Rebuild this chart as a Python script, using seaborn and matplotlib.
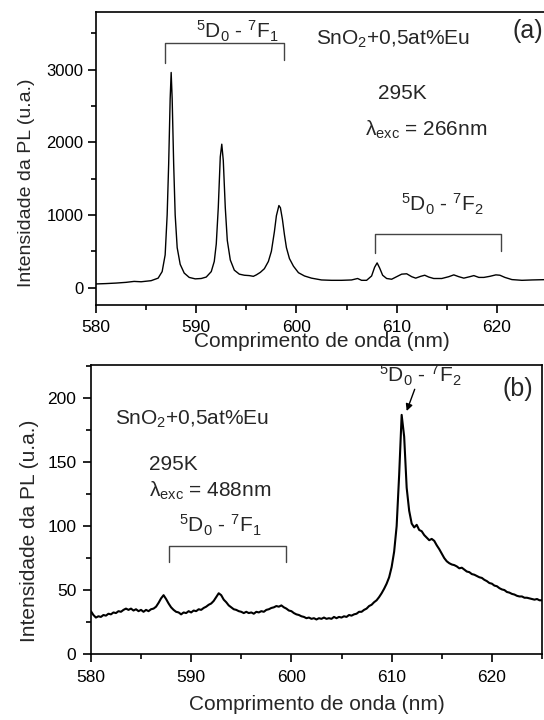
import numpy as np
import pandas as pd
import matplotlib
matplotlib.use("Agg")
import matplotlib.pyplot as plt
from matplotlib.ticker import MultipleLocator
import seaborn as sns

# ---------------- data ----------------
# (a) excitation 266 nm
wl_a = [580.0, 581.0, 582.0, 583.0, 583.8, 584.5, 585.5, 586.2, 586.6, 586.9,
        587.1, 587.25, 587.4, 587.5, 587.6, 587.75, 587.9, 588.1, 588.4, 588.8,
        589.3, 589.9, 590.5, 591.0, 591.5, 591.8, 592.0, 592.2, 592.4, 592.55,
        592.7, 592.9, 593.1, 593.4, 593.8, 594.3, 594.8, 595.3, 595.7, 596.0,
        596.4, 596.8, 597.2, 597.5, 597.8, 598.0, 598.25, 598.4, 598.6, 598.8,
        599.0, 599.3, 599.7, 600.2, 600.8, 601.5, 602.5, 603.5, 604.5, 605.5,
        606.1, 606.5, 607.0, 607.5, 607.8, 608.05, 608.3, 608.6, 609.0, 609.5,
        610.0, 610.5, 611.0, 611.5, 611.9, 612.4, 612.8, 613.2, 613.7, 614.5,
        615.2, 615.7, 616.2, 616.7, 617.3, 617.7, 618.2, 618.7, 619.3, 619.9,
        620.3, 620.8, 621.5, 622.5, 623.5, 625.0]
int_a = [50, 55, 62, 72, 85, 80, 95, 130, 220, 450,
         1000, 1700, 2600, 2963, 2600, 1700, 1000, 550, 320, 200,
         140, 120, 125, 145, 220, 360, 600, 1100, 1800, 1975,
         1750, 1100, 650, 380, 240, 185, 170, 165, 155, 175,
         210, 260, 360, 500, 770, 990, 1130, 1100, 940, 730,
         550, 400, 295, 205, 160, 130, 105, 100, 100, 105,
         125, 100, 100, 160, 280, 340, 270, 170, 125, 115,
         150, 185, 190, 150, 130, 155, 170, 145, 125, 125,
         150, 175, 150, 130, 150, 165, 140, 140, 155, 175,
         170, 140, 110, 100, 105, 110]

# (b) excitation 488 nm, sampled every 0.25 nm from 580 to 625 nm
int_b = [
    33.5, 30.5, 28.5, 29.5,   # 580
    29.0, 30.5, 30.0, 31.5,   # 581
    31.0, 32.5, 32.0, 33.5,   # 582
    33.0, 34.5, 35.5, 34.5,   # 583
    35.5, 34.0, 35.0, 33.5,   # 584
    34.5, 33.0, 34.5, 33.5,   # 585
    35.0, 35.5, 37.0, 40.0,   # 586
    43.5, 46.0, 43.0, 39.5,   # 587
    36.5, 34.5, 33.0, 32.5,   # 588
    31.0, 32.5, 32.0, 33.5,   # 589
    32.5, 34.0, 33.5, 35.0,   # 590
    34.5, 36.0, 37.0, 38.5,   # 591
    39.5, 41.5, 44.5, 47.5,   # 592
    46.0, 42.5, 40.5, 38.0,   # 593
    36.5, 35.0, 34.5, 33.5,   # 594
    33.0, 32.0, 33.0, 32.0,   # 595
    32.5, 31.5, 33.0, 32.5,   # 596
    33.5, 33.0, 34.5, 35.0,   # 597
    36.0, 36.5, 37.5, 37.0,   # 598
    38.0, 36.5, 35.5, 34.0,   # 599
    33.5, 32.0, 31.0, 30.5,   # 600
    29.5, 29.0, 28.0, 28.5,   # 601
    27.5, 28.0, 27.0, 28.0,   # 602
    27.5, 28.5, 27.5, 28.0,   # 603
    27.5, 29.0, 28.0, 29.0,   # 604
    28.5, 29.5, 29.0, 30.5,   # 605
    30.0, 31.0, 31.5, 33.0,   # 606
    33.0, 34.5, 35.5, 37.5,   # 607
    38.5, 40.5, 42.0, 44.5,   # 608
    47.5, 51.0, 55.0, 60.0,   # 609
    68.0, 80.0, 100.0, 140.0,  # 610
    187.0, 170.0, 130.0, 112.0,  # 611
    102.0, 99.0, 101.0, 97.0,  # 612
    96.0, 93.0, 91.0, 89.0,   # 613
    90.0, 88.5, 85.0, 82.0,   # 614
    78.5, 75.0, 72.5, 71.0,   # 615
    70.0, 69.5, 68.5, 67.0,   # 616
    67.5, 66.0, 64.5, 64.0,   # 617
    62.5, 62.0, 61.0, 60.0,   # 618
    59.5, 58.0, 57.0, 55.5,   # 619
    55.0, 53.5, 53.0, 51.5,   # 620
    50.5, 50.0, 48.5, 48.0,   # 621
    47.0, 46.5, 45.5, 45.0,   # 622
    45.0, 44.0, 44.0, 43.5,   # 623
    43.0, 42.5, 43.0, 42.0,   # 624
    42.0,                     # 625
]
wl_b = np.linspace(580.0, 625.0, len(int_b))

xticks = [580, 590, 600, 610, 620]
yticks_a = [0, 1000, 2000, 3000]
yticks_b = [0, 50, 100, 150, 200]

# ---------------- style ----------------
sns.set_theme(style="ticks")
plt.rcParams["font.family"] = ["Liberation Sans", "DejaVu Sans"]
plt.rcParams["mathtext.fontset"] = "custom"
plt.rcParams["mathtext.rm"] = "Liberation Sans"
plt.rcParams["mathtext.it"] = "Liberation Sans:italic"
plt.rcParams["mathtext.bf"] = "Liberation Sans:bold"
plt.rcParams["axes.linewidth"] = 1.2

fig = plt.figure(figsize=(5.44, 7.2), dpi=100)
ax_a = fig.add_axes([96 / 544, 1 - 305 / 720, (547 - 96) / 544, (305 - 11.7) / 720])
ax_b = fig.add_axes([90.9 / 544, 1 - 654 / 720, (542 - 90.9) / 544, (654 - 365) / 720])

df_a = pd.DataFrame({"wl": wl_a, "I": int_a})
df_b = pd.DataFrame({"wl": wl_b, "I": int_b})
sns.lineplot(data=df_a, x="wl", y="I", ax=ax_a, color="black", lw=1.0,
             estimator=None, sort=False)
sns.lineplot(data=df_b, x="wl", y="I", ax=ax_b, color="black", lw=1.5,
             estimator=None, sort=False)

for ax in (ax_a, ax_b):
    ax.set_xlim(580, 625)
    ax.set_xticks(xticks)
    ax.xaxis.set_minor_locator(MultipleLocator(5))
    ax.tick_params(which="major", direction="out", length=6, width=1.2,
                   labelsize=12.5, color="black", labelcolor="black")
    ax.tick_params(which="minor", direction="out", length=3.5, width=1.2,
                   color="black")
    ax.tick_params(axis="x", which="both", top=False)
    ax.tick_params(axis="y", which="both", right=False)
    for s in ax.spines.values():
        s.set_color("black")
        s.set_linewidth(1.2)

ax_a.set_ylim(-240, 3800)
ax_a.set_yticks(yticks_a)
ax_a.yaxis.set_minor_locator(MultipleLocator(500))
ax_a.tick_params(axis="y", labelsize=12, pad=3)
ax_a.tick_params(axis="x", pad=4.5)
for lab in ax_a.get_yticklabels():
    lab.set_family(["Liberation Sans Narrow", "Liberation Sans"])
ax_a.spines["right"].set_visible(False)

ax_b.set_ylim(0, 226)
ax_b.set_yticks(yticks_b)
ax_b.yaxis.set_minor_locator(MultipleLocator(25))
ax_b.tick_params(axis="y", labelsize=12.5, pad=4.5)
ax_b.tick_params(axis="x", pad=5.5)

ax_a.set_xlabel("Comprimento de onda (nm)", fontsize=15, va="center")
ax_a.xaxis.set_label_coords(0.5, -0.125)
ax_a.set_ylabel("Intensidade da PL (u.a.)", fontsize=14, va="center")
ax_a.yaxis.set_label_coords(-0.155, 0.418)

ax_b.set_xlabel("Comprimento de onda (nm)", fontsize=15, va="center")
ax_b.xaxis.set_label_coords(0.5, -0.176)
ax_b.set_ylabel("Intensidade da PL (u.a.)", fontsize=15, va="center")
ax_b.yaxis.set_label_coords(-0.136, 0.427)

F1 = r"$\mathregular{^5D_0}$ - $\mathregular{^7F_1}$"
F2 = r"$\mathregular{^5D_0}$ - $\mathregular{^7F_2}$"
tsz = 15
bcol = "#444444"

# ---- panel (a) annotations ----
ax_a.text(590.0, 3437, F1, fontsize=tsz, ha="left", va="baseline")
ax_a.plot([586.9, 586.9, 598.8, 598.8], [3097, 3368, 3368, 3135],
          color=bcol, lw=1.0)
ax_a.text(602.0, 3345, r"SnO$\mathregular{_2}$+0,5at%Eu", fontsize=tsz,
          ha="left", va="baseline")
ax_a.text(621.6, 3530, "(a)", fontsize=18, ha="left", va="center")
ax_a.text(608.1, 2596, "295K", fontsize=tsz, ha="left", va="baseline")
ax_a.text(606.8, 2091, r"λ$\mathregular{_{exc}}$ = 266nm", fontsize=tsz,
          ha="left", va="baseline")
ax_a.text(610.4, 1047, F2, fontsize=tsz, ha="left", va="baseline")
ax_a.plot([607.8, 607.8, 620.4, 620.4], [478, 740, 740, 500],
          color=bcol, lw=1.0)

# ---- panel (b) annotations ----
ax_b.text(621.1, 207, "(b)", fontsize=18, ha="left", va="center")
ax_b.text(608.7, 212.3, F2, fontsize=tsz, ha="left", va="baseline")
ax_b.annotate("", xy=(611.5, 190), xytext=(612.3, 207),
              arrowprops=dict(arrowstyle="-|>", color="black", lw=1.0,
                              mutation_scale=10, shrinkA=0, shrinkB=0))
ax_b.text(582.4, 179.6, r"SnO$\mathregular{_2}$+0,5at%Eu", fontsize=tsz,
          ha="left", va="baseline")
ax_b.text(585.8, 143.5, "295K", fontsize=tsz, ha="left", va="baseline")
ax_b.text(585.8, 123.4, r"λ$\mathregular{_{exc}}$ = 488nm", fontsize=tsz,
          ha="left", va="baseline")
ax_b.text(588.8, 94.7, F1, fontsize=tsz, ha="left", va="baseline")
ax_b.plot([587.8, 587.8, 599.5, 599.5], [71.6, 84.2, 84.2, 71.6],
          color=bcol, lw=1.0)

fig.savefig("out.png", dpi=100)
